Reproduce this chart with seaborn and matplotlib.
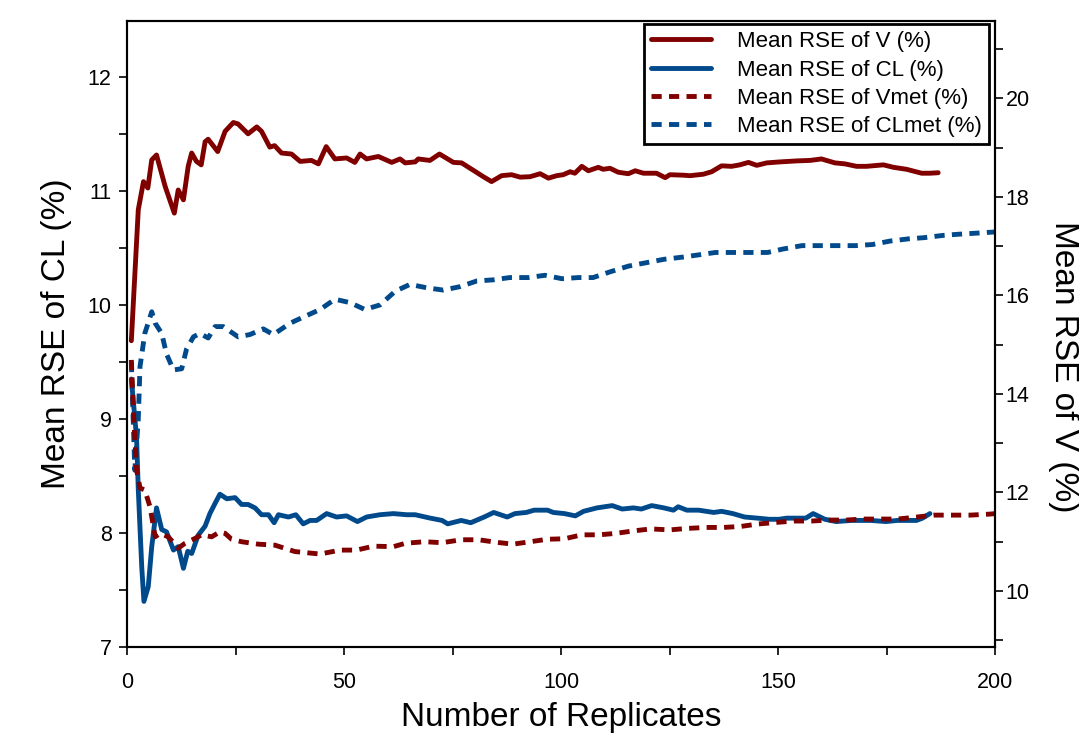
import matplotlib
matplotlib.use("Agg")
import matplotlib.pyplot as plt
from matplotlib.ticker import MultipleLocator
import seaborn as sns
import pandas as pd

# ---------------- data ----------------
# Mean RSE of V (%)  -> right axis
v_points = [(1, 15.08), (2.6, 17.74), (3.8, 18.31), (4.8, 18.18), (5.7, 18.75), (6.8, 18.85),
            (8.8, 18.21), (10.9, 17.67), (11.8, 18.14), (13.0, 17.94), (14.1, 18.62), (14.9, 18.89),
            (16.0, 18.72), (17.1, 18.65), (18.0, 19.12), (18.7, 19.17), (20.9, 18.92), (22.6, 19.33),
            (24.5, 19.51), (25.6, 19.48), (27.9, 19.28), (29.9, 19.42), (31.0, 19.33), (32.9, 19.01),
            (34.0, 19.04), (35.6, 18.89), (37.9, 18.87), (39.9, 18.72), (42.5, 18.74), (44.1, 18.67),
            (45.9, 19.02), (47.9, 18.77), (50.6, 18.79), (52.5, 18.70), (53.7, 18.87), (55.2, 18.77),
            (57.9, 18.82), (61.0, 18.70), (62.9, 18.77), (64.1, 18.69), (66.4, 18.71), (67.1, 18.77),
            (69.8, 18.74), (72.0, 18.87), (75.2, 18.70), (77.1, 18.69), (82.1, 18.41), (84.0, 18.31),
            (86.3, 18.43), (88.6, 18.45), (90.6, 18.40), (92.9, 18.41), (95.2, 18.47), (97.1, 18.38),
            (99.0, 18.43), (100.5, 18.45), (102.1, 18.51), (103.2, 18.48), (104.8, 18.62), (106.3, 18.53),
            (108.6, 18.60), (109.7, 18.56), (111.3, 18.58), (113.2, 18.50), (115.5, 18.47), (117.1, 18.53),
            (119.0, 18.48), (122.0, 18.48), (124.0, 18.39), (125.1, 18.45), (128.2, 18.44), (129.7, 18.43),
            (132.8, 18.46), (134.7, 18.51), (137.0, 18.63), (139.3, 18.62), (141.2, 18.65), (143.2, 18.70),
            (145.1, 18.64), (147.4, 18.69), (150.5, 18.71), (154.3, 18.73), (157.4, 18.74), (160.0, 18.77),
            (163.1, 18.69), (165.4, 18.67), (168.1, 18.62), (170.4, 18.62), (174.3, 18.65), (176.6, 18.60),
            (179.6, 18.56), (183.1, 18.48), (185.0, 18.48), (186.9, 18.49)]

# Mean RSE of CL (%)  -> left axis
cl_points = [(1, 9.35), (2.2, 8.84), (2.6, 8.38), (3.4, 7.70), (3.9, 7.40), (4.9, 7.53), (5.7, 7.88),
             (6.8, 8.22), (8.0, 8.03), (9.1, 8.01), (10.7, 7.85), (11.8, 7.88), (13.0, 7.69), (14.0, 7.84),
             (14.9, 7.82), (16.4, 7.98), (18.0, 8.06), (19.1, 8.17), (20.3, 8.26), (21.4, 8.34), (23.0, 8.30),
             (24.9, 8.31), (26.4, 8.25), (27.9, 8.25), (29.5, 8.22), (31.0, 8.16), (32.6, 8.16), (33.9, 8.09),
             (34.9, 8.16), (37.2, 8.14), (38.9, 8.16), (40.6, 8.08), (42.2, 8.11), (43.7, 8.11), (46.0, 8.17),
             (48.3, 8.14), (50.6, 8.15), (53.1, 8.10), (55.2, 8.14), (58.3, 8.16), (61.4, 8.17), (64.4, 8.16),
             (66.4, 8.16), (69.9, 8.13), (72.6, 8.11), (73.9, 8.08), (77.0, 8.11), (79.2, 8.09), (82.3, 8.14),
             (84.5, 8.18), (87.6, 8.14), (89.4, 8.17), (92.0, 8.18), (93.8, 8.20), (96.9, 8.20), (98.2, 8.18),
             (100.8, 8.17), (103.3, 8.15), (105.2, 8.19), (108.3, 8.22), (111.8, 8.24), (114.1, 8.21),
             (116.7, 8.22), (118.5, 8.21), (120.9, 8.24), (123.7, 8.22), (125.9, 8.20), (127.0, 8.23),
             (129.0, 8.20), (131.7, 8.20), (135.2, 8.18), (137.0, 8.19), (139.6, 8.17), (142.3, 8.14),
             (145.3, 8.13), (148.0, 8.12), (150.2, 8.12), (152.0, 8.13), (156.4, 8.13), (158.1, 8.17),
             (160.8, 8.12), (163.4, 8.10), (166.9, 8.11), (171.3, 8.11), (174.9, 8.10), (177.5, 8.11),
             (181.9, 8.11), (183.3, 8.13), (185.0, 8.17)]

# Mean RSE of Vmet (%)  -> right axis
vmet_points = [(1, 14.69), (1.5, 13.6), (2.2, 12.46), (3.0, 12.09), (4.1, 12.05), (5.3, 11.71), (6.5, 11.10),
               (7.6, 11.17), (9.5, 11.10), (11.8, 10.87), (13.4, 10.97), (15.3, 11.05), (17.2, 11.14),
               (19.5, 11.10), (21.4, 11.20), (22.6, 11.17), (24.1, 11.05), (26.4, 11.00), (30.3, 10.95),
               (34.1, 10.93), (38.7, 10.80), (44.5, 10.75), (49.1, 10.83), (52.9, 10.83), (56.8, 10.91),
               (61.4, 10.90), (64.2, 10.97), (68.6, 11.00), (72.6, 10.98), (77.0, 11.04), (81.0, 11.04),
               (85.0, 10.99), (88.9, 10.95), (92.9, 11.00), (96.8, 11.05), (100.8, 11.06), (104.8, 11.14),
               (108.8, 11.14), (112.7, 11.17), (116.7, 11.22), (120.7, 11.26), (125.1, 11.24), (129.0, 11.27),
               (133.5, 11.29), (137.4, 11.29), (141.4, 11.31), (145.4, 11.36), (149.3, 11.39), (153.7, 11.42),
               (157.7, 11.42), (161.7, 11.44), (165.6, 11.44), (169.6, 11.46), (173.6, 11.46), (177.5, 11.46),
               (181.9, 11.50), (185.9, 11.54), (189.9, 11.54), (194.3, 11.54), (198.7, 11.56), (200, 11.57)]

# Mean RSE of CLmet (%)  -> left axis
clmet_points = [(1, 9.5), (1.8, 8.55), (2.6, 9.0), (3.0, 9.46), (4.1, 9.75), (5.7, 9.94), (6.5, 9.84),
                (8.0, 9.75), (9.1, 9.57), (10.7, 9.43), (12.6, 9.44), (13.7, 9.61), (15.3, 9.72), (16.8, 9.75),
                (18.7, 9.71), (20.3, 9.81), (22.2, 9.81), (25.6, 9.72), (28.3, 9.74), (31.4, 9.79), (33.7, 9.74),
                (37.6, 9.84), (41.0, 9.90), (44.5, 9.96), (47.9, 10.05), (51.4, 10.02), (54.8, 9.96),
                (58.3, 10.00), (61.8, 10.12), (65.2, 10.18), (69.1, 10.15), (72.9, 10.13), (76.7, 10.16),
                (80.6, 10.21), (84.4, 10.22), (88.2, 10.24), (92.5, 10.24), (96.3, 10.26), (100.2, 10.23),
                (104.0, 10.24), (107.4, 10.24), (111.3, 10.29), (115.5, 10.34), (123.7, 10.40), (128.2, 10.42),
                (135.6, 10.46), (139.6, 10.46), (143.6, 10.46), (147.6, 10.46), (151.1, 10.49), (155.5, 10.52),
                (159.9, 10.52), (163.4, 10.52), (167.8, 10.52), (171.8, 10.53), (175.8, 10.56), (180.2, 10.58),
                (183.7, 10.59), (188.1, 10.61), (191.6, 10.62), (196.0, 10.63), (200, 10.64)]

series_labels = ["Mean RSE of V (%)", "Mean RSE of CL (%)", "Mean RSE of Vmet (%)", "Mean RSE of CLmet (%)"]
x_label = "Number of Replicates"
y_left_label = "Mean RSE of CL (%)"
y_right_label = "Mean RSE of V (%)"

# ---------------- styling ----------------
sns.set_style("ticks")
plt.rcParams['font.family'] = ['Liberation Sans', 'DejaVu Sans']
plt.rcParams['text.color'] = 'black'
plt.rcParams['axes.labelcolor'] = 'black'
plt.rcParams['xtick.color'] = 'black'
plt.rcParams['ytick.color'] = 'black'

RED = "#800000"
BLUE = "#004a8c"
DASH = (0, (2.1, 1.5))
LW = 3.5

fig = plt.figure(figsize=(10.79, 7.34), dpi=100)
ax = fig.add_axes([127 / 1079, 1 - 647 / 734, 868 / 1079, 626 / 734])
ax2 = ax.twinx()


def to_df(points):
    return pd.DataFrame(points, columns=["x", "y"])


sns.lineplot(data=to_df(clmet_points), x="x", y="y", ax=ax, color=BLUE, lw=LW,
             linestyle=DASH, label=series_labels[3], legend=False)
sns.lineplot(data=to_df(cl_points), x="x", y="y", ax=ax, color=BLUE, lw=LW,
             label=series_labels[1], legend=False)
sns.lineplot(data=to_df(vmet_points), x="x", y="y", ax=ax2, color=RED, lw=LW,
             linestyle=DASH, label=series_labels[2], legend=False)
sns.lineplot(data=to_df(v_points), x="x", y="y", ax=ax2, color=RED, lw=LW,
             label=series_labels[0], legend=False)

ax.set_xlim(0, 200)
ax.set_ylim(7, 12.49)
ax2.set_ylim(8.863, 21.57)

ax.xaxis.set_major_locator(MultipleLocator(50))
ax.xaxis.set_minor_locator(MultipleLocator(25))
ax.yaxis.set_major_locator(MultipleLocator(1))
ax.yaxis.set_minor_locator(MultipleLocator(0.5))
ax2.yaxis.set_major_locator(MultipleLocator(2))
ax2.yaxis.set_minor_locator(MultipleLocator(1))

for a in (ax, ax2):
    a.tick_params(which="both", direction="out", length=6, width=1.2, colors="black",
                  labelsize=15.5, top=False)
    for s in a.spines.values():
        s.set_linewidth(1.5)
        s.set_color("black")
ax.tick_params(axis="y", right=False, which="both", pad=5)
ax2.tick_params(axis="y", left=False, which="both", pad=1.5)
ax.tick_params(axis="x", pad=12)

ax.set_xlabel(x_label, fontsize=24)
ax.xaxis.set_label_coords(0.5, -0.088)
ax.set_ylabel(y_left_label, fontsize=24)
ax.yaxis.set_label_coords(-0.063, 0.5)
ax2.set_ylabel(y_right_label, fontsize=24, rotation=270, va="bottom")
ax2.yaxis.set_label_coords(1.061, 0.448)

# legend
h1, l1 = ax.get_legend_handles_labels()
h2, l2 = ax2.get_legend_handles_labels()
hd = dict(zip(l1 + l2, h1 + h2))
leg = ax2.legend([hd[l] for l in series_labels], series_labels, loc="upper right",
                 bbox_to_anchor=(0.993, 0.995), borderaxespad=0, fontsize=16,
                 handlelength=2.7, handletextpad=1.15, labelspacing=0.33,
                 frameon=True, fancybox=False, edgecolor="black", framealpha=1,
                 borderpad=0.32)
leg.get_frame().set_linewidth(2.0)

fig.savefig("out.png", dpi=100)
